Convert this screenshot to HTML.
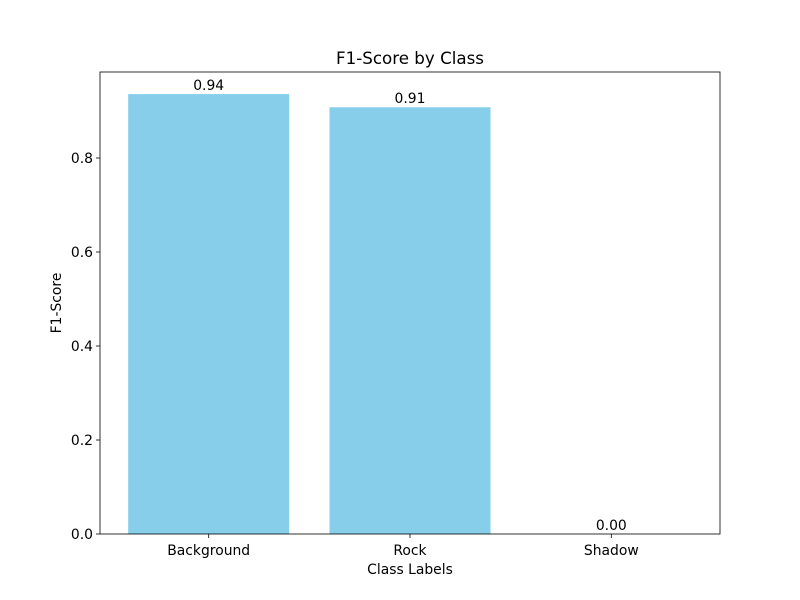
<!DOCTYPE html>
<html><head><meta charset="utf-8"><style>
body{margin:0;background:#fff;}
svg{display:block;font-family:"DejaVu Sans","Liberation Sans",sans-serif;}
</style></head><body>
<svg id="chart" width="800" height="600">
<rect width="800" height="600" fill="#fff"/>
<text x="410" y="64" text-anchor="middle" font-size="16.7">F1-Score by Class</text>
<g id="bars"></g>
<g id="ticks"></g>
<rect x="100" y="72" width="620" height="462" fill="none" stroke="#000" stroke-width="0.8"/>
<text x="410" y="574" text-anchor="middle" font-size="13.9">Class Labels</text>
<text transform="translate(61,303) rotate(-90)" text-anchor="middle" font-size="13.9">F1-Score</text>
</svg>
<script>
const categories = ["Background", "Rock", "Shadow"];
const values = [0.936, 0.908, 0.0];
const valueLabels = ["0.94", "0.91", "0.00"];
const yTicks = [0.0, 0.2, 0.4, 0.6, 0.8];
const yTickLabels = ["0.0", "0.2", "0.4", "0.6", "0.8"];

const NS = "http://www.w3.org/2000/svg";
const L = 100, R = 720, T = 72, B = 534;
const xMin = -0.54, xMax = 2.54;
const yMin = 0, yMax = 0.983;
const xs = v => L + (v - xMin) / (xMax - xMin) * (R - L);
const ys = v => B - (v - yMin) / (yMax - yMin) * (B - T);
function mk(tag, attrs, parent) { const e = document.createElementNS(NS, tag); for (const k in attrs) e.setAttribute(k, attrs[k]); parent.appendChild(e); return e; }
const bars = document.getElementById("bars"), ticks = document.getElementById("ticks");
const bw = 0.8;
categories.forEach((c, i) => {
  const x0 = xs(i - bw / 2), x1 = xs(i + bw / 2), y = ys(values[i]);
  const r = mk("rect", { x: x0, y: y, width: x1 - x0, height: B - y, fill: "#87ceeb" }, bars);
  
  
  const t = mk("text", { x: xs(i), y: y - 4, "text-anchor": "middle", "font-size": "13.9" }, bars);
  t.textContent = valueLabels[i];
  
  
  mk("line", { x1: xs(i), x2: xs(i), y1: B, y2: B + 4, stroke: "#000", "stroke-width": 0.8 }, ticks);
  const tl = mk("text", { x: xs(i), y: B + 21, "text-anchor": "middle", "font-size": "13.9" }, ticks);
  tl.textContent = c;
  
  
});
yTicks.forEach((v, i) => {
  const y = ys(v);
  mk("line", { x1: L - 4, x2: L, y1: y, y2: y, stroke: "#000", "stroke-width": 0.8 }, ticks);
  const tl = mk("text", { x: L - 7, y: y + 5, "text-anchor": "end", "font-size": "13.9" }, ticks);
  tl.textContent = yTickLabels[i];
  
  
});
</script>
</body></html>
